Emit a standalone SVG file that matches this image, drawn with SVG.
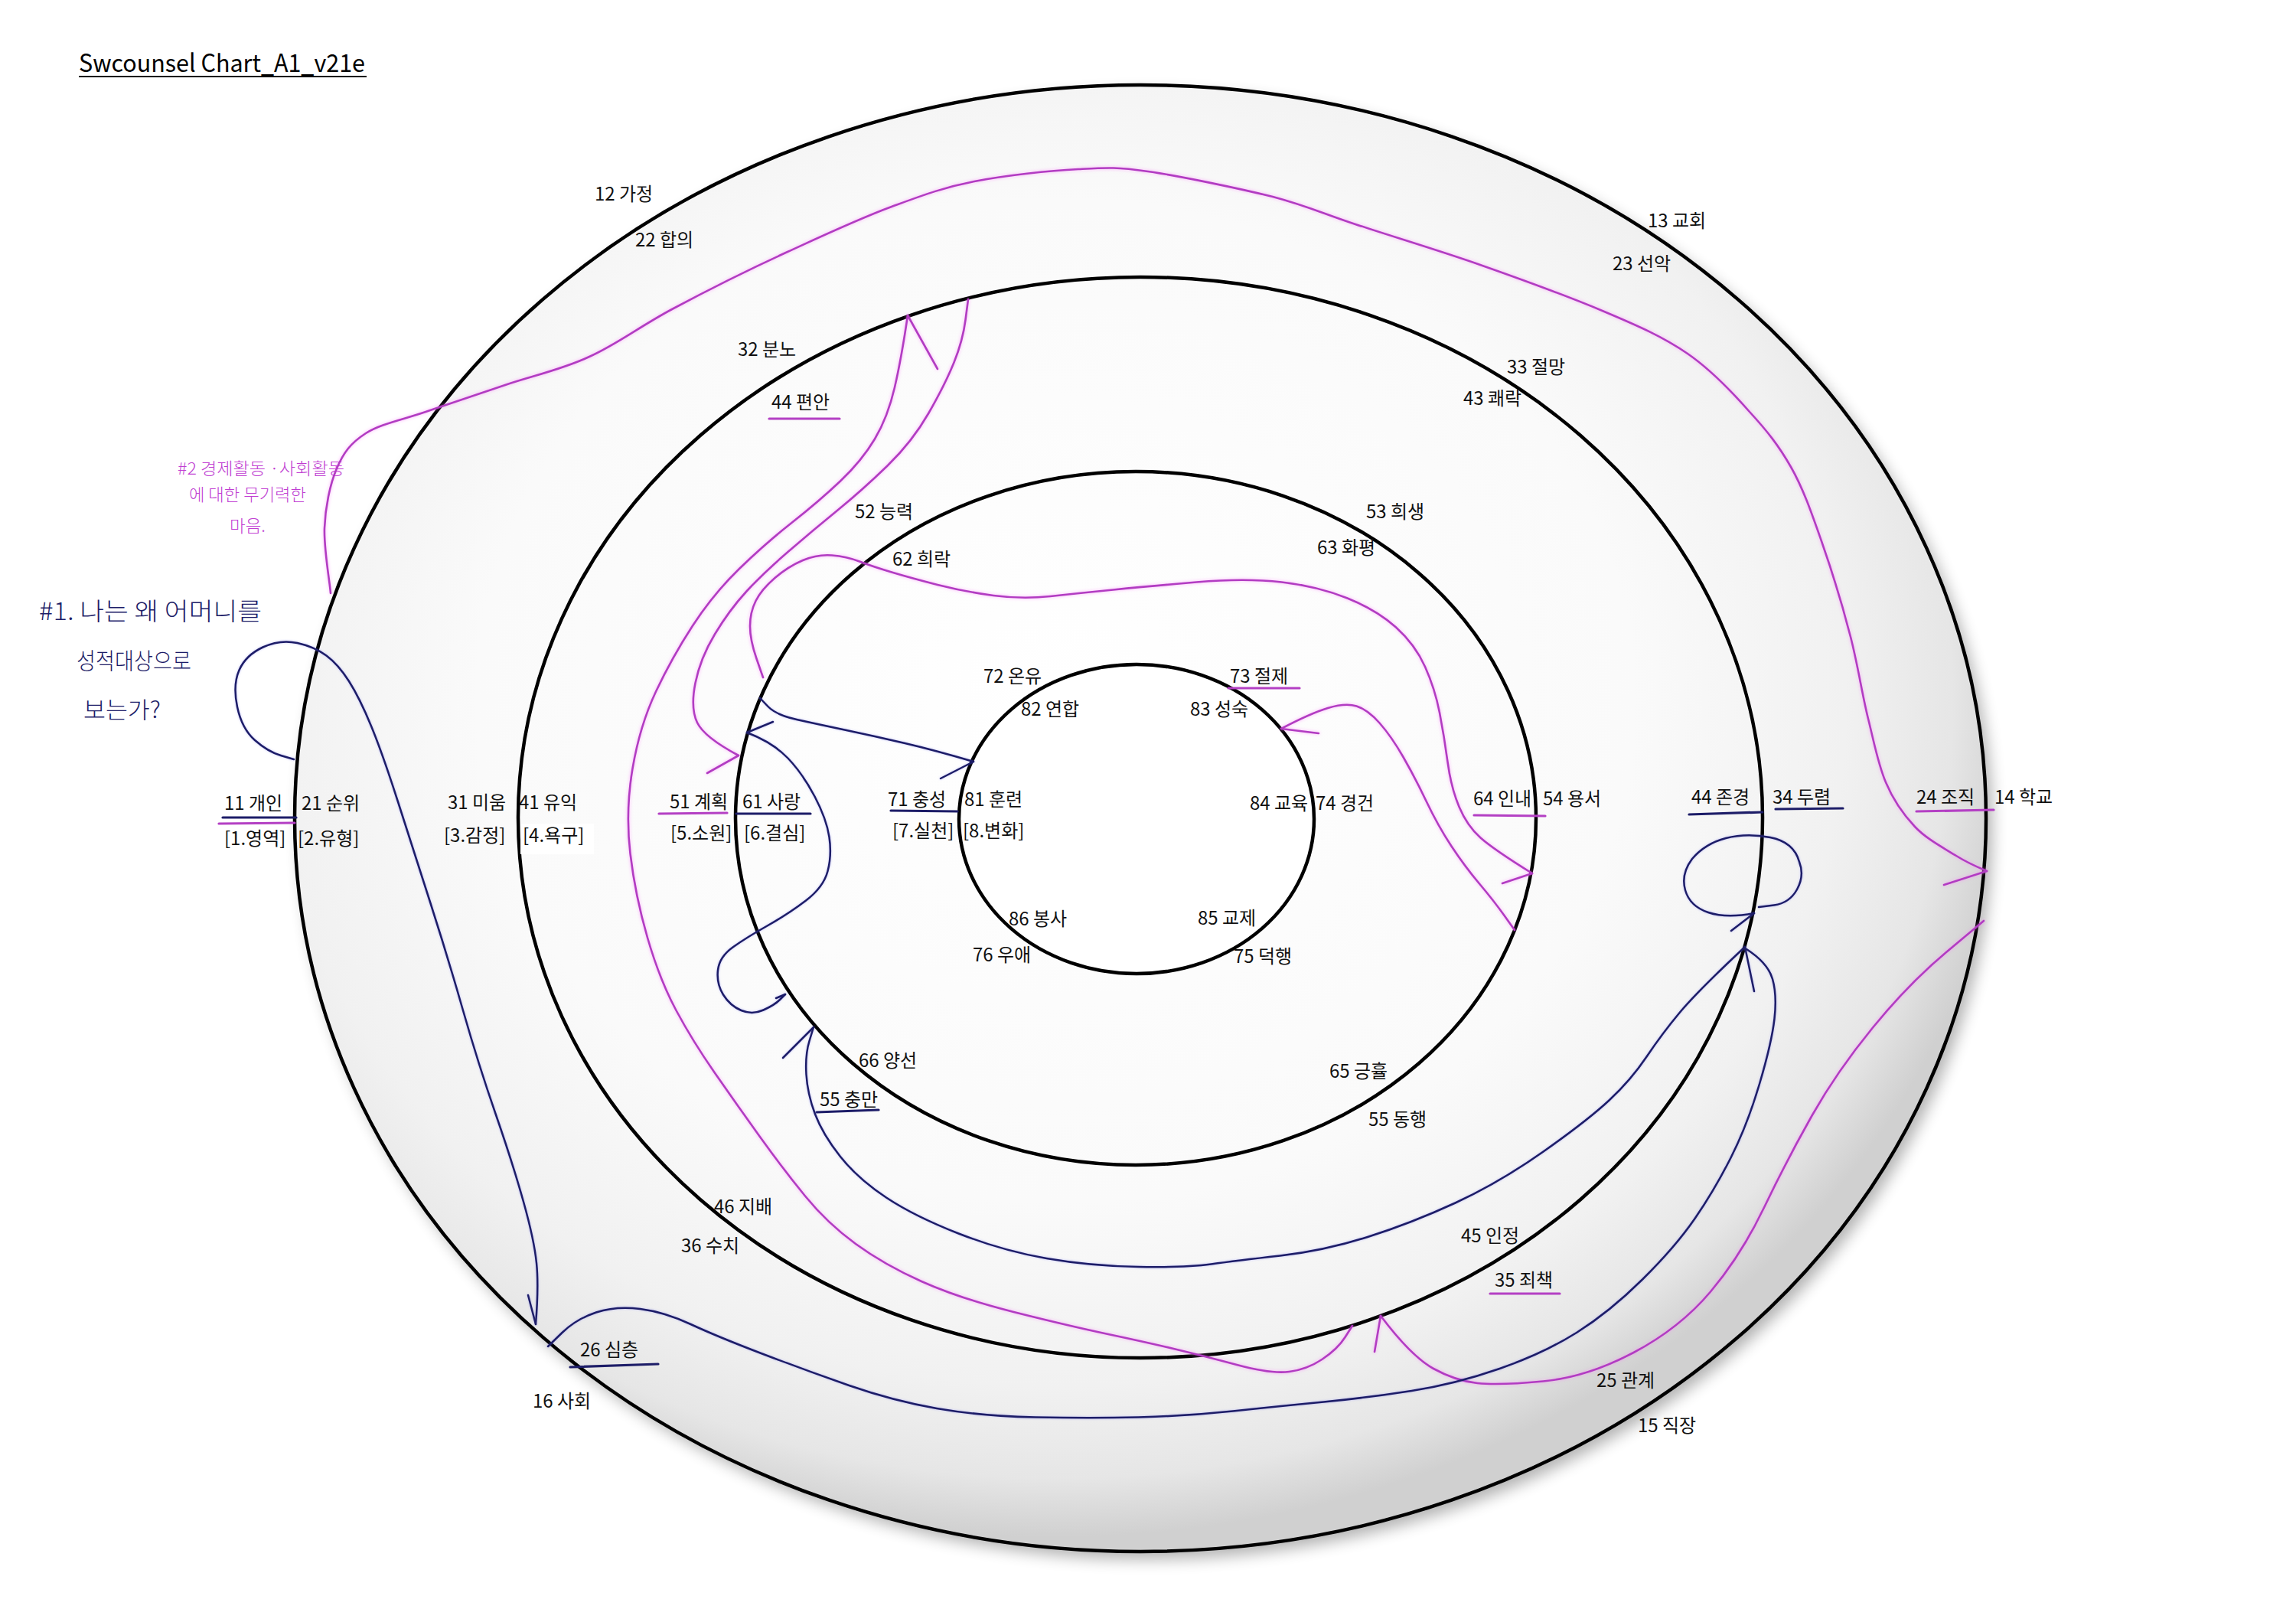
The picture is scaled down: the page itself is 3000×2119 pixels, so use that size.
<svg xmlns="http://www.w3.org/2000/svg" width="3000" height="2119" viewBox="0 0 3000 2119">
<defs>
  <radialGradient id="discGrad" cx="0.45" cy="0.42" r="0.57">
    <stop offset="0" stop-color="#ffffff"/>
    <stop offset="0.6" stop-color="#fafafa"/>
    <stop offset="0.82" stop-color="#f1f1f1"/>
    <stop offset="0.93" stop-color="#e6e6e6"/>
    <stop offset="1" stop-color="#d0d0d0"/>
  </radialGradient>
  <filter id="shadow" x="-10%" y="-10%" width="120%" height="120%">
    <feGaussianBlur stdDeviation="10"/>
  </filter>
  <filter id="glowM" filterUnits="userSpaceOnUse" x="0" y="0" width="3000" height="2119" color-interpolation-filters="sRGB">
    <feGaussianBlur in="SourceAlpha" stdDeviation="2.2" result="b"/>
    <feFlood flood-color="#ff7cff" flood-opacity="0.6"/>
    <feComposite in2="b" operator="in" result="g"/>
    <feMerge><feMergeNode in="g"/><feMergeNode in="SourceGraphic"/></feMerge>
  </filter>
  <filter id="glowN" filterUnits="userSpaceOnUse" x="0" y="0" width="3000" height="2119" color-interpolation-filters="sRGB">
    <feGaussianBlur in="SourceAlpha" stdDeviation="1.6" result="b"/>
    <feFlood flood-color="#7070ff" flood-opacity="0.4"/>
    <feComposite in2="b" operator="in" result="g"/>
    <feMerge><feMergeNode in="g"/><feMergeNode in="SourceGraphic"/></feMerge>
  </filter>
</defs>
<style>
  .ring{fill:none;stroke:#000;stroke-width:4.5}
  .lbl{font-family:"Noto Sans CJK KR","Noto Sans","DejaVu Sans",sans-serif;font-size:24px;fill:#111}
  .mg{fill:none;stroke:#b23cc2;stroke-width:2.6;stroke-linecap:round;stroke-linejoin:round}
  .nv{fill:none;stroke:#1d1d68;stroke-width:2.5;stroke-linecap:round;stroke-linejoin:round}
  .ulm{stroke:#b440c4;stroke-width:3.2;stroke-linecap:round}
  .uln{stroke:#1d1d68;stroke-width:3.2;stroke-linecap:round}
  .hand{font-family:"Noto Sans CJK KR","Noto Sans",sans-serif;font-weight:300}
</style>

<rect width="3000" height="2119" fill="#ffffff"/>

<g id="title">
  <text x="103" y="94" font-family="'Noto Sans CJK KR','Noto Sans',sans-serif" font-size="32" fill="#000" textLength="374" lengthAdjust="spacingAndGlyphs">Swcounsel Chart_A1_v21e</text>
  <line x1="103" y1="100" x2="479" y2="100" stroke="#000" stroke-width="2"/>
</g>

<g id="rings">
  <ellipse cx="1498" cy="1079" rx="1105" ry="958" fill="#000" opacity="0.3" filter="url(#shadow)"/>
  <ellipse id="ring-1" cx="1490" cy="1069" rx="1105" ry="958" fill="url(#discGrad)" stroke="#000" stroke-width="4.5"/>
  <ellipse id="ring-2" class="ring" cx="1490" cy="1068" rx="813" ry="706"/>
  <ellipse id="ring-3" class="ring" cx="1484" cy="1069" rx="523" ry="453"/>
  <ellipse id="ring-4" cx="1485" cy="1070" rx="232" ry="202" fill="#ffffff" stroke="#000" stroke-width="4.5"/>
</g>

<g id="note-1" class="hand" fill="#1d1d68">
  <text x="51" y="810" font-size="32" textLength="291" lengthAdjust="spacingAndGlyphs">#1. 나는 왜 어머니를</text>
  <text x="100" y="874" font-size="30" textLength="150" lengthAdjust="spacingAndGlyphs">성적대상으로</text>
  <text x="109" y="938" font-size="30" textLength="101" lengthAdjust="spacingAndGlyphs">보는가?</text>
</g>
<g id="note-2" class="hand" fill="#c03ed2">
  <text x="232" y="620" font-size="22" textLength="218" lengthAdjust="spacingAndGlyphs">#2 경제활동 ·사회활동</text>
  <text x="247" y="654" font-size="22" textLength="153" lengthAdjust="spacingAndGlyphs">에 대한 무기력한</text>
  <text x="300" y="695" font-size="22" textLength="47" lengthAdjust="spacingAndGlyphs">마음.</text>
</g>

<g id="labels" class="lbl">
  <g id="n12"><text x="777" y="262">12 가정</text></g>
  <g id="n22"><text x="830" y="322">22 합의</text></g>
  <g id="n13"><text x="2153" y="297">13 교회</text></g>
  <g id="n23"><text x="2107" y="353">23 선악</text></g>
  <g id="n32"><text x="964" y="465">32 분노</text></g>
  <g id="n44a"><text x="1008" y="534">44 편안</text><line class="ulm" x1="1005" y1="547" x2="1097" y2="547"/></g>
  <g id="n33"><text x="1969" y="488">33 절망</text></g>
  <g id="n43"><text x="1912" y="529">43 쾌락</text></g>
  <g id="n52"><text x="1117" y="677">52 능력</text></g>
  <g id="n62"><text x="1166" y="739">62 희락</text></g>
  <g id="n53"><text x="1785" y="677">53 희생</text></g>
  <g id="n63"><text x="1721" y="724">63 화평</text></g>
  <g id="n72"><text x="1285" y="892">72 온유</text></g>
  <g id="n82"><text x="1334" y="935">82 연합</text></g>
  <g id="n73"><text x="1607" y="892">73 절제</text><line class="ulm" x1="1605" y1="899" x2="1698" y2="899"/></g>
  <g id="n83"><text x="1555" y="935">83 성숙</text></g>

  <g id="n11"><text x="293" y="1058">11 개인</text><line class="uln" x1="291" y1="1068" x2="387" y2="1068"/><line class="ulm" x1="286" y1="1076" x2="385" y2="1075"/></g>
  <g id="n21"><text x="394" y="1058">21 순위</text></g>
  <g id="c1"><text x="293" y="1104">[1.영역]</text></g>
  <g id="c2"><text x="389" y="1104">[2.유형]</text></g>
  <g id="n31"><text x="585" y="1057">31 미움</text></g>
  <g id="n41"><text x="678" y="1057">41 유익</text></g>
  <g id="c3"><text x="580" y="1100">[3.감정]</text></g>
  <g id="c4"><rect x="680" y="1076" width="96" height="40" fill="#ffffff"/><text x="683" y="1100">[4.욕구]</text></g>
  <g id="n51"><text x="875" y="1056">51 계획</text><line class="ulm" x1="861" y1="1063" x2="950" y2="1062"/></g>
  <g id="n61"><text x="970" y="1056">61 사랑</text><line class="uln" x1="962" y1="1063" x2="1059" y2="1063"/></g>
  <g id="c5"><text x="876" y="1097">[5.소원]</text></g>
  <g id="c6"><text x="972" y="1097">[6.결심]</text></g>
  <g id="n71"><text x="1160" y="1053">71 충성</text><line class="uln" x1="1164" y1="1059" x2="1251" y2="1060"/></g>
  <g id="n81"><text x="1260" y="1053">81 훈련</text></g>
  <g id="c7"><text x="1166" y="1094">[7.실천]</text></g>
  <g id="c8"><text x="1258" y="1094">[8.변화]</text></g>
  <g id="n84"><text x="1633" y="1058">84 교육</text></g>
  <g id="n74"><text x="1719" y="1058">74 경건</text></g>
  <g id="n64"><text x="1925" y="1052">64 인내</text><line class="ulm" x1="1926" y1="1065" x2="2019" y2="1066"/></g>
  <g id="n54"><text x="2016" y="1052">54 용서</text></g>
  <g id="n44b"><text x="2210" y="1050">44 존경</text><line class="uln" x1="2207" y1="1064" x2="2303" y2="1061"/></g>
  <g id="n34"><text x="2316" y="1050">34 두렴</text><line class="uln" x1="2320" y1="1057" x2="2408" y2="1056"/></g>
  <g id="n24"><text x="2504" y="1050">24 조직</text><line class="ulm" x1="2504" y1="1060" x2="2605" y2="1058"/></g>
  <g id="n14"><text x="2606" y="1050">14 학교</text></g>

  <g id="n86"><text x="1318" y="1209">86 봉사</text></g>
  <g id="n76"><text x="1271" y="1256">76 우애</text></g>
  <g id="n85"><text x="1565" y="1208">85 교제</text></g>
  <g id="n75"><text x="1612" y="1258">75 덕행</text></g>
  <g id="n66"><text x="1122" y="1394">66 양선</text></g>
  <g id="n55a"><text x="1071" y="1445">55 충만</text><line class="uln" x1="1067" y1="1453" x2="1148" y2="1450"/></g>
  <g id="n65"><text x="1737" y="1408">65 긍휼</text></g>
  <g id="n55b"><text x="1788" y="1471">55 동행</text></g>
  <g id="n46"><text x="933" y="1585">46 지배</text></g>
  <g id="n36"><text x="890" y="1636">36 수치</text></g>
  <g id="n45"><text x="1909" y="1623">45 인정</text></g>
  <g id="n35"><text x="1953" y="1681">35 죄책</text><line class="ulm" x1="1947" y1="1690" x2="2038" y2="1690"/></g>
  <g id="n26"><text x="758" y="1772">26 심층</text><line class="uln" x1="745" y1="1786" x2="860" y2="1782"/></g>
  <g id="n16"><text x="696" y="1839">16 사회</text></g>
  <g id="n25"><text x="2086" y="1812">25 관계</text></g>
  <g id="n15"><text x="2140" y="1871">15 직장</text></g>
</g>

<g id="connectors">
  <g id="magenta" filter="url(#glowM)">
    <path class="mg" d="M432,775 C431,761 423,717 424,690 C425,663 431,633 440,612 C449,591 458,579 478,566 C498,553 532,547 562,536 C592,526 625,515 660,503 C695,491 734,483 770,466 C806,450 835,427 878,404 C921,381 981,351 1029,329 C1077,307 1124,285 1165,270 C1206,255 1232,245 1273,237 C1314,229 1371,223 1409,221 C1447,219 1458,218 1500,224 C1542,230 1618,246 1663,257 C1708,269 1726,278 1771,293 C1816,308 1880,327 1934,346 C1988,365 2051,388 2096,407 C2141,426 2173,440 2205,462 C2237,484 2264,513 2286,538 C2309,563 2324,582 2340,610 C2356,638 2367,670 2380,707 C2393,744 2408,793 2418,832 C2428,871 2433,907 2441,939 C2449,971 2454,999 2464,1022 C2474,1046 2487,1064 2502,1080 C2517,1096 2540,1108 2556,1118 C2572,1128 2589,1135 2596,1138"/>
    <path class="mg" d="M2540,1156 L2596,1138"/>
    <path class="mg" d="M1265,391 L1261.5,418 Q1258,445 1246.5,473.5 Q1235,502 1213.5,539.5 Q1192,577 1159.5,608.5 Q1127,640 1094.5,666.5 Q1062,693 1029.5,721 Q997,749 975,773 Q953,797 934,828.5 Q915,860 908.5,892.5 Q902,925 911,944 Q920,963 965,987"/>
    <path class="mg" d="M924,1010 L965,987"/>
    <path class="mg" d="M1767,1732 L1757.5,1747 Q1748,1762 1728,1775.5 Q1708,1789 1684.5,1792 Q1661,1795 1618,1783.5 Q1575,1772 1537.5,1763 Q1500,1754 1448,1743 Q1396,1732 1324.5,1714 Q1253,1696 1204,1674 Q1155,1652 1118,1625 Q1081,1598 1052,1562.5 Q1023,1527 992.5,1484.5 Q962,1442 933.5,1401 Q905,1360 883.5,1320 Q862,1280 846,1225 Q830,1170 823.5,1115 Q817,1060 826.5,1004 Q836,948 857,903.5 Q878,859 905,817.5 Q932,776 966,743 Q1000,710 1035,682.5 Q1070,655 1098,628.5 Q1126,602 1143,573.5 Q1160,545 1169,506 Q1178,467 1186,412"/>
    <path class="mg" d="M1225,482 L1186,412"/>
    <path class="mg" d="M2592,1203 L2543,1244 Q2494,1285 2447,1342.5 Q2400,1400 2367.5,1457.5 Q2335,1515 2305,1577.5 Q2275,1640 2235,1687.5 Q2195,1735 2134.5,1767 Q2074,1799 2016.5,1804.5 Q1959,1810 1930.5,1807 Q1902,1804 1873,1788 Q1844,1772 1804,1719"/>
    <path class="mg" d="M1796,1766 L1804,1719"/>
    <path class="mg" d="M997,885 L988.5,860.5 Q980,836 980,818 Q980,800 987.5,785 Q995,770 1012.5,755 Q1030,740 1049,732 Q1068,724 1087,725.5 Q1106,727 1123,733.5 Q1140,740 1165,747.5 Q1190,755 1225,764 Q1260,773 1298,778 Q1336,783 1372.5,779 Q1409,775 1454.5,770.5 Q1500,766 1563.5,760.5 Q1627,755 1674.5,760.5 Q1722,766 1760.5,781.5 Q1799,797 1824,819.5 Q1849,842 1862,871 Q1875,900 1881,931 Q1887,962 1891.5,995.5 Q1896,1029 1906.5,1054 Q1917,1079 1934.5,1094.5 Q1952,1110 2002,1141"/>
    <path class="mg" d="M1963,1154 L2002,1141"/>
    <path class="mg" d="M1979,1215 L1965.5,1196 Q1952,1177 1933,1154.5 Q1914,1132 1896.5,1105.5 Q1879,1079 1864,1047.5 Q1849,1016 1833.5,989 Q1818,962 1802.5,944.5 Q1787,927 1772.5,922.5 Q1758,918 1735,925 Q1712,932 1674,952"/>
    <path class="mg" d="M1723,958 L1674,952"/>
  </g>
  <g id="navy" filter="url(#glowN)">
    <path class="nv" d="M384,992 L367,987 Q350,982 333,967 Q316,952 310,923.5 Q304,895 312.5,875.5 Q321,856 343.5,845.5 Q366,835 388.5,840 Q411,845 426.5,856.5 Q442,868 456,890 Q470,912 485,948.5 Q500,985 520,1047.5 Q540,1110 562.5,1180 Q585,1250 605,1320 Q625,1390 647.5,1455 Q670,1520 684,1570 Q698,1620 701,1650 Q704,1680 700,1730"/>
    <path class="nv" d="M690,1692 L700,1730"/>
    <path class="nv" d="M716,1759 L734.5,1741 Q753,1723 779,1714.5 Q805,1706 836.5,1710 Q868,1714 902.5,1730 Q937,1746 994.5,1768 Q1052,1790 1109.5,1810 Q1167,1830 1224,1840 Q1281,1850 1353,1851.5 Q1425,1853 1487.5,1851.5 Q1550,1850 1611,1843.5 Q1672,1837 1729.5,1831.5 Q1787,1826 1844.5,1817 Q1902,1808 1959.5,1788 Q2017,1768 2060,1741 Q2103,1714 2146,1671.5 Q2189,1629 2214.5,1592 Q2240,1555 2261.5,1512.5 Q2283,1470 2299,1416 Q2315,1362 2318.5,1331 Q2322,1300 2316,1279 Q2310,1258 2282,1240"/>
    <path class="nv" d="M1063,1342 L1057.5,1360 Q1052,1378 1053.5,1403.5 Q1055,1429 1065,1455.5 Q1075,1482 1098,1511 Q1121,1540 1158,1564.5 Q1195,1589 1252.5,1611.5 Q1310,1634 1367.5,1644 Q1425,1654 1487.5,1655 Q1550,1656 1582.5,1651.5 Q1615,1647 1672.5,1640.5 Q1730,1634 1787,1616 Q1844,1598 1901.5,1571.5 Q1959,1545 2016.5,1504.5 Q2074,1464 2102.5,1437.5 Q2131,1411 2151.5,1380.5 Q2172,1350 2195,1322.5 Q2218,1295 2280,1237"/>
    <path class="nv" d="M1023,1382 L1063,1342"/>
    <path class="nv" d="M2292,1295 L2280,1237"/>
    <path class="nv" d="M993,912 L1003.5,923 Q1014,934 1041,940 Q1068,946 1106,954 Q1144,962 1182.5,971 Q1221,980 1272,995"/>
    <path class="nv" d="M1229,1017 L1272,995"/>
    <path class="nv" d="M1026,1299 L1019,1306 Q1012,1313 997.5,1319.5 Q983,1326 968.5,1320 Q954,1314 945,1299.5 Q936,1285 938,1267.5 Q940,1250 957.5,1237.5 Q975,1225 1002.5,1209.5 Q1030,1194 1053,1176.5 Q1076,1159 1081.5,1138 Q1087,1117 1083.5,1093.5 Q1080,1070 1064.5,1040.5 Q1049,1011 1029.5,990.5 Q1010,970 976,957"/>
    <path class="nv" d="M1010,943 L976,957"/>
    <path class="nv" d="M1014,1304 L1026,1299"/>
    <path class="nv" d="M2298,1185 L2318,1182.5 Q2338,1180 2348,1162 Q2358,1144 2351,1126 Q2344,1100 2313,1094 Q2282,1088 2255,1095 Q2228,1102 2211,1122 Q2196,1142 2202,1163 Q2208,1184 2232,1192 Q2256,1200 2292,1193"/>
    <path class="nv" d="M2262,1216 L2292,1193"/>
  </g>
</g>
</svg>
